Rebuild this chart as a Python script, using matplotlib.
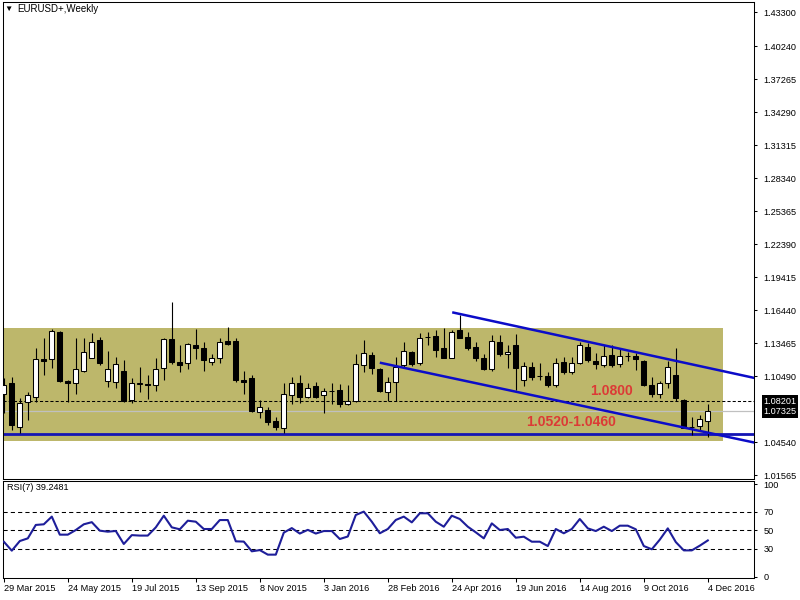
import numpy as np
import matplotlib.pyplot as plt
from matplotlib.patches import Rectangle
from matplotlib.transforms import blended_transform_factory

plt.rcParams['font.family'] = ['Liberation Sans', 'DejaVu Sans']

# velas semanales EURUSD (29 Mar 2015 .. 4 Dec 2016)
apertura = [1.0885, 1.0985, 1.0587, 1.0818, 1.0863, 1.1201, 1.1201, 1.1449, 1.1008, 1.0984,
            1.1095, 1.1215, 1.1375, 1.1005, 1.0993, 1.1095, 1.0834, 1.0980, 1.0978, 1.0969,
            1.1119, 1.1384, 1.1176, 1.1164, 1.1329, 1.1305, 1.1179, 1.1215, 1.1366, 1.1366,
            1.1014, 1.1030, 1.0728, 1.0743, 1.0644, 1.0584, 1.0879, 1.0984, 1.0863, 1.0960,
            1.0879, 1.0917, 1.0924, 1.0795, 1.0825, 1.1149, 1.1239, 1.1113, 1.0908, 1.0993,
            1.1149, 1.1264, 1.1164, 1.1402, 1.1413, 1.1305, 1.1215, 1.1465, 1.1404, 1.1314,
            1.1210, 1.1113, 1.1354, 1.1246, 1.1329, 1.1014, 1.1134, 1.1047, 1.1050, 1.0969,
            1.1173, 1.1083, 1.1164, 1.1314, 1.1185, 1.1149, 1.1239, 1.1155, 1.1228, 1.1230,
            1.1185, 1.0969, 1.0885, 1.0984, 1.1059, 1.0834, 1.0590, 1.0600, 1.0640]
maximo = [1.1035, 1.1044, 1.0849, 1.0903, 1.1300, 1.1395, 1.1471, 1.1458, 1.1014, 1.1390,
          1.1390, 1.1435, 1.1404, 1.1275, 1.1224, 1.1194, 1.1029, 1.1134, 1.1059, 1.1210,
          1.1390, 1.1720, 1.1329, 1.1345, 1.1471, 1.1359, 1.1246, 1.1395, 1.1494, 1.1390,
          1.1095, 1.1059, 1.0834, 1.0773, 1.0683, 1.0984, 1.1044, 1.1059, 1.0984, 1.0993,
          1.0944, 1.0984, 1.0975, 1.0969, 1.1246, 1.1375, 1.1264, 1.1125, 1.1044, 1.1224,
          1.1354, 1.1275, 1.1435, 1.1449, 1.1465, 1.1480, 1.1465, 1.1600, 1.1449, 1.1359,
          1.1246, 1.1420, 1.1420, 1.1329, 1.1426, 1.1179, 1.1179, 1.1164, 1.1083, 1.1210,
          1.1224, 1.1224, 1.1359, 1.1350, 1.1255, 1.1329, 1.1329, 1.1300, 1.1269, 1.1255,
          1.1194, 1.1044, 1.1005, 1.1185, 1.1305, 1.0843, 1.0680, 1.0700, 1.0796]
minimo = [1.0714, 1.0563, 1.0539, 1.0653, 1.0818, 1.1059, 1.1125, 1.0993, 1.0818, 1.0885,
          1.1083, 1.1210, 1.1149, 1.0953, 1.0944, 1.0818, 1.0804, 1.0908, 1.0843, 1.0915,
          1.1014, 1.1155, 1.1083, 1.1113, 1.1203, 1.1095, 1.1149, 1.1164, 1.1329, 1.0993,
          1.0885, 1.0728, 1.0674, 1.0608, 1.0563, 1.0533, 1.0795, 1.0804, 1.0849, 1.0849,
          1.0714, 1.0795, 1.0773, 1.0788, 1.0813, 1.1083, 1.1065, 1.0903, 1.0825, 1.0825,
          1.1125, 1.1143, 1.1149, 1.1329, 1.1224, 1.1210, 1.1210, 1.1390, 1.1284, 1.1185,
          1.1104, 1.1095, 1.1233, 1.1125, 1.0924, 1.0962, 1.1014, 1.1014, 1.0953, 1.0953,
          1.1065, 1.1065, 1.1155, 1.1179, 1.1113, 1.1134, 1.1134, 1.1134, 1.1185, 1.1104,
          1.0962, 1.0863, 1.0854, 1.0939, 1.0825, 1.0578, 1.0518, 1.0560, 1.0503]
cierre = [1.0969, 1.0608, 1.0804, 1.0879, 1.1201, 1.1188, 1.1458, 1.1005, 1.0984, 1.1113,
          1.1264, 1.1354, 1.1164, 1.1113, 1.1155, 1.0825, 1.0984, 1.0987, 1.0969, 1.1113,
          1.1384, 1.1179, 1.1149, 1.1338, 1.1300, 1.1194, 1.1210, 1.1354, 1.1336, 1.1014,
          1.0999, 1.0734, 1.0768, 1.0638, 1.0593, 1.0885, 1.0984, 1.0863, 1.0944, 1.0863,
          1.0917, 1.0914, 1.0795, 1.0825, 1.1155, 1.1255, 1.1125, 1.0915, 1.0999, 1.1134,
          1.1275, 1.1155, 1.1390, 1.1399, 1.1284, 1.1215, 1.1444, 1.1395, 1.1300, 1.1215,
          1.1113, 1.1366, 1.1246, 1.1269, 1.1119, 1.1143, 1.1044, 1.1052, 1.0969, 1.1164,
          1.1083, 1.1164, 1.1329, 1.1194, 1.1155, 1.1230, 1.1149, 1.1230, 1.1232, 1.1200,
          1.0969, 1.0885, 1.0984, 1.1134, 1.0849, 1.0584, 1.0588, 1.0665, 1.07325]

rsi = [37.9, 28.2, 38.6, 41.5, 56.0, 56.7, 65.0, 45.5, 45.5, 50.5,
       56.7, 59.0, 49.8, 48.7, 49.5, 35.4, 45.0, 44.5, 44.5, 53.4,
       66.0, 53.4, 51.3, 60.6, 59.5, 51.6, 51.6, 61.3, 61.3, 38.3,
       38.0, 27.5, 28.8, 23.9, 23.9, 47.7, 52.6, 46.7, 50.7, 46.7,
       49.4, 49.4, 40.8, 43.5, 66.8, 70.4, 59.5, 47.0, 51.6, 61.4,
       65.0, 58.8, 68.6, 68.6, 59.5, 54.1, 66.0, 62.4, 54.1, 48.0,
       41.5, 57.7, 50.5, 51.6, 42.2, 43.3, 37.9, 37.9, 33.2, 51.6,
       47.0, 51.6, 62.4, 52.3, 49.4, 54.1, 49.4, 55.2, 55.2, 51.3,
       33.2, 29.7, 40.1, 52.3, 37.5, 28.5, 28.5, 33.6, 39.25]

fechas = ['29 Mar 2015', '24 May 2015', '19 Jul 2015', '13 Sep 2015', '8 Nov 2015',
          '3 Jan 2016', '28 Feb 2016', '24 Apr 2016', '19 Jun 2016', '14 Aug 2016',
          '9 Oct 2016', '4 Dec 2016']
precios_eje = [1.43300, 1.40240, 1.37265, 1.34290, 1.31315, 1.28340, 1.25365,
               1.22390, 1.19415, 1.16440, 1.13465, 1.10490, 1.04540, 1.01565]
niveles_rsi = [30, 50, 70]

precio_linea = 1.08201
precio_bid = 1.07325
soporte = 1.0530
zona = (1.0465, 1.1485, 89.9)          # abajo, arriba, fin en barras
canal_sup = [(56.05, 1.1624), (92.7, 1.1050)]
canal_inf = [(47.0, 1.1170), (92.7, 1.0467)]

W, H = 800, 600
fig = plt.figure(figsize=(8, 6), dpi=100)
ax = fig.add_axes([3 / W, 1 - 479 / H, 751 / W, 477.5 / H])
ax2 = fig.add_axes([3 / W, 1 - 578 / H, 751 / W, 97 / H])

n = len(cierre)
x = np.arange(n)
ax.set_xlim(-0.1, -0.1 + 751 / 8)
ax2.set_xlim(-0.1, -0.1 + 751 / 8)
ax.set_ylim(1.0820 - 77.5 / 1109.2, 1.0820 + 400 / 1109.2)
ax2.set_ylim(-1.35, 103.5)

# zona caqui
ax.add_patch(Rectangle((-1, zona[0]), zona[2] + 1, zona[1] - zona[0],
                       facecolor='#bdb76b', edgecolor='none', zorder=0.5))

ax.axhline(precio_bid, color='#c0c0c0', lw=0.9, zorder=1)
ax.axhline(precio_linea, color='black', lw=0.75, dashes=(3, 2), zorder=1)
ax.axhline(soporte, color='#1414b4', lw=2.0, zorder=1.5)

# velas
o = np.array(apertura); c = np.array(cierre)
ax.vlines(x, minimo, maximo, color='black', lw=0.8, zorder=2)
colores = ['white' if cc >= oo else 'black' for oo, cc in zip(o, c)]
ax.bar(x, np.abs(c - o), bottom=np.minimum(o, c), width=0.58,
       color=colores, edgecolor='black', linewidth=0.75, zorder=3)

# canal bajista
for (x0, y0), (x1, y1) in [canal_sup, canal_inf]:
    m = (y1 - y0) / (x1 - x0)
    xe = 96
    ax.plot([x0, xe], [y0, y0 + m * (xe - x0)], color='#0c0cc8', lw=1.8, zorder=4,
            solid_capstyle='butt')

ax.text(75.96, 1.0912, '1.0800', color='#dc3a36', fontsize=10, fontweight='bold',
        ha='center', va='center', zorder=5)
ax.text(70.96, 1.0631, '1.0520-1.0460', color='#dc3a36', fontsize=10, fontweight='bold',
        ha='center', va='center', zorder=5)

# eje de precios
ax.yaxis.tick_right()
ax.set_yticks(precios_eje)
ax.set_yticklabels([f'{p:.5f}' for p in precios_eje])
ax.tick_params(axis='y', direction='out', length=2.5, width=0.75, pad=4.5, labelsize=6.6)
ax.set_xticks([])
tr = blended_transform_factory(ax.transAxes, ax.transData)
for p in [precio_linea, precio_bid]:
    ax.text(1.0125, p, f'{p:.5f}', transform=tr, color='white', fontsize=6.6,
            ha='left', va='center', clip_on=False,
            bbox=dict(facecolor='black', edgecolor='none', pad=1.3))

# RSI
ax2.plot(x, rsi, color='#1e1e9a', lw=1.5, zorder=3)
for nivel in niveles_rsi:
    ax2.axhline(nivel, color='black', lw=0.75, dashes=(4, 3), zorder=1)
ax2.yaxis.tick_right()
ax2.set_yticks([0, 30, 50, 70, 100])
ax2.tick_params(axis='y', direction='out', length=2.5, width=0.75, pad=4.5, labelsize=6.6)
ax2.set_xticks(np.arange(0, n, 8))
ax2.set_xticklabels(fechas, ha='left')
ax2.tick_params(axis='x', direction='out', length=3, width=0.75, pad=1, labelsize=6.6)
ax2.text(0.005, 0.93, 'RSI(7) 39.2481', transform=ax2.transAxes, fontsize=6.6,
         ha='left', va='center')

for a in (ax, ax2):
    for s in a.spines.values():
        s.set_linewidth(0.75)
        s.set_color('black')

fig.text(8 / W, 1 - 9 / H, '▼', fontsize=6, ha='center', va='center')
fig.text(17 / W, 1 - 9.5 / H, 'EURUSD+,Weekly', fontsize=7, ha='left', va='center')

fig.savefig('out.png', dpi=100)
